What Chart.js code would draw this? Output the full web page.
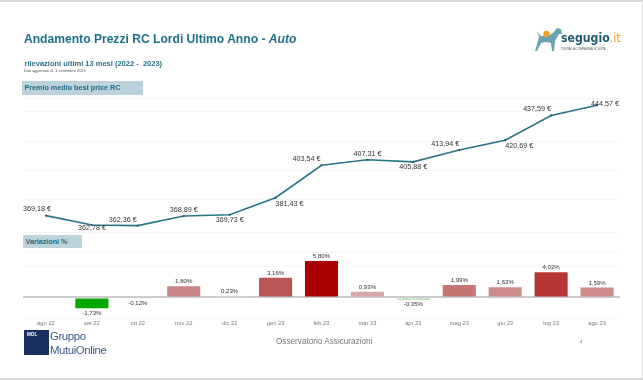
<!DOCTYPE html>
<html>
<head>
  <title>Andamento Prezzi RC Lordi Ultimo Anno - Auto</title>
  <script src="https://cdn.jsdelivr.net/npm/chart.js"></script>
  <style>
    html, body { margin: 0; padding: 0; background: #fff; overflow: hidden; }
    #page {
      position: relative; width: 643px; height: 380px; overflow: hidden;
      font-family: "Liberation Sans", Arial, sans-serif;
      filter: blur(0.35px);
    }
    #page canvas { position: absolute; left: 0; top: 0; }
    .txt { position: absolute; white-space: nowrap; line-height: 1; }
    .edge { position: absolute; background: #d9d9d9; }
    .band { position: absolute; background: #bcd3dc; color: #1f6b84; font-weight: bold; font-size: 7.2px; line-height: 13px; padding-left: 2.5px; box-sizing: border-box; }
  </style>
</head>
<body>
<div id="page">
  <canvas id="lineChart" width="643" height="380"></canvas>
  <canvas id="barChart" width="643" height="380"></canvas>

  <div class="edge" style="left:0;top:0;width:643px;height:2px"></div>
  <div class="edge" style="left:642px;top:0;width:1px;height:380px"></div>
  <div class="edge" style="left:0;top:378px;width:643px;height:2px"></div>

  <div class="txt" style="left:24px;top:33px;font-size:12.1px;font-weight:bold;color:#1f6f8c">Andamento Prezzi RC Lordi Ultimo Anno - <i>Auto</i></div>
  <div class="txt" style="left:24.5px;top:60px;font-size:7.5px;font-weight:bold;color:#2a7088">rilevazioni ultimi 13 mesi (2022 -&nbsp; 2023)</div>
  <div class="txt" style="left:24px;top:69px;font-size:3.9px;color:#555">Dati aggiornati al&nbsp; 3 settembre 2023</div>
  <div class="band" style="left:22px;top:81px;width:121px;height:14px">Premio medio best price RC</div>
  <div class="band" style="left:23px;top:235px;width:59px;height:13px">Variazioni %</div>

  <!-- segugio logo -->
  <svg style="position:absolute;left:534px;top:27px" width="30" height="26" viewBox="0 0 30 26">
    <path fill="#6aa3b2" d="M2 4 L5 9 L4 14 L1 24 L3 24 L7 16 L12 15 L17 16 L18 24 L20 24 L21 14 L25 7 L28 7 L27 2 L23 1 L19 6 L14 9 L7 9 Z"/>
    <circle cx="12.500" cy="7" r="3.200" fill="#f0a11e"/>
  </svg>
  <div class="txt" style="left:561px;top:32px;font-family:'DejaVu Sans Condensed','DejaVu Sans';font-weight:bold;font-size:12.2px;color:#1f5a6e">segugio<span style="color:#f0a11e;font-weight:normal">.it</span></div>
  <div class="txt" style="left:561px;top:47.500px;font-size:2.9px;color:#555">TROVA LA COMPAGNIA SCUOTA</div>

  <!-- MOL logo -->
  <div style="position:absolute;left:24px;top:330px;width:25px;height:25px;background:#17305f"></div>
  <div class="txt" style="left:27px;top:332.500px;font-size:4.6px;font-weight:bold;color:#fff">MOL</div>
  <div class="txt" style="left:50px;top:331px;font-size:11.4px;color:#3a5a8c;letter-spacing:-0.4px">Gruppo</div>
  <div class="txt" style="left:50px;top:345px;font-size:11.4px;color:#3a5a8c;letter-spacing:-0.4px">MutuiOnline</div>

  <div class="txt" style="left:276px;top:338px;font-size:8.2px;color:#777">Osservatorio Assicurazioni</div>
  <div class="txt" style="left:580px;top:340px;font-size:4px;color:#555">4</div>
</div>

<script>
  const months = ['ago 22','set 22','ott 22','nov 22','dic 22','gen 23','feb 23','mar 23','apr 23','mag 23','giu 23','lug 23','ago 23'];
  const prices = [369.18, 362.78, 362.36, 368.89, 369.73, 381.43, 403.54, 407.31, 405.88, 413.94, 420.69, 437.59, 444.57];
  const changes = [null, -1.73, -0.12, 1.80, 0.23, 3.16, 5.80, 0.93, -0.35, 1.99, 1.63, 4.02, 1.59];
  const barColors = ['#fff', '#00a800', '#cfe8cf', '#c98585', '#ead8d8', '#b85555', '#a80000', '#d8a8a8', '#a3d9a3', '#c67575', '#cc8c8c', '#b53535', '#cc8c8c'];

  // label offsets from each point
  const priceLabelOffsets = [[-9,-7],[0,3],[-15,-6],[0,-6],[0,5],[14,6],[-15,-6],[0,-6],[0,5],[-14,-6],[14,6],[-14,-6],[8,-1]];

  const gridColor = '#f5f5f5';

  function itNumber(v) {
    return v.toFixed(2).replace('.', ',');
  }

  // no datalabels plugin here, so the value labels get drawn by hand
  const priceLabels = {
    id: 'priceLabels',
    afterDatasetsDraw(chart) {
      const ctx = chart.ctx;
      const pts = chart.getDatasetMeta(0).data;
      ctx.save();
      ctx.font = '7.2px "Liberation Sans"';
      ctx.fillStyle = '#333';
      ctx.textAlign = 'center';
      ctx.textBaseline = 'middle';
      pts.forEach((p, i) => {
        const off = priceLabelOffsets[i];
        ctx.fillText(itNumber(prices[i]) + ' €', p.x + off[0], p.y + off[1]);
      });
      ctx.restore();
    }
  };

  const changeLabels = {
    id: 'changeLabels',
    afterDatasetsDraw(chart) {
      const ctx = chart.ctx;
      const bars = chart.getDatasetMeta(0).data;
      ctx.save();
      ctx.font = '6.1px "Liberation Sans"';
      ctx.fillStyle = '#333';
      ctx.textAlign = 'center';
      ctx.textBaseline = 'middle';
      bars.forEach((b, i) => {
        if (changes[i] === null) return;
        const y = changes[i] < 0 ? b.y + 5 : b.y - 4.5;
        ctx.fillText(itNumber(changes[i]) + '%', b.x, y);
      });
      ctx.restore();
    }
  };

  new Chart(document.getElementById('lineChart').getContext('2d'), {
    type: 'line',
    data: {
      labels: months,
      datasets: [{
        data: prices,
        borderColor: '#2b7488',
        borderWidth: 1.6,
        tension: 0,
        pointRadius: 1.1,
        pointBackgroundColor: '#1f5f73',
        pointBorderWidth: 0
      }]
    },
    options: {
      responsive: false,
      animation: false,
      layout: { padding: { left: 23, right: 23, top: 98, bottom: 148 } },
      plugins: { legend: { display: false }, tooltip: { enabled: false } },
      scales: {
        x: { display: false, offset: true },
        y: {
          min: 358,
          max: 449.5,
          grid: { color: gridColor, drawTicks: false },
          border: { display: false },
          ticks: { display: false, stepSize: 20 }
        }
      }
    },
    plugins: [priceLabels]
  });

  new Chart(document.getElementById('barChart').getContext('2d'), {
    type: 'bar',
    data: {
      labels: months,
      datasets: [{
        data: changes,
        backgroundColor: barColors,
        barPercentage: 0.72,
        categoryPercentage: 1
      }]
    },
    options: {
      responsive: false,
      animation: false,
      layout: { padding: { left: 23, right: 23, top: 252, bottom: 48 } },
      plugins: { legend: { display: false }, tooltip: { enabled: false } },
      scales: {
        x: {
          afterFit(scale) { scale.height = 14; },
          grid: { display: false, drawTicks: false },
          border: { display: false },
          ticks: { color: '#777', font: { family: 'Liberation Sans', size: 5.8 }, maxRotation: 0, autoSkip: false, padding: 2 }
        },
        y: {
          min: -3.27,
          max: 7.25,
          grid: {
            drawTicks: false,
            color: ctx => ctx.tick.value === 0 ? '#cccccc' : gridColor,
            lineWidth: ctx => ctx.tick.value === 0 ? 2 : 1
          },
          border: { display: false },
          ticks: { display: false, stepSize: 5 }
        }
      }
    },
    plugins: [changeLabels]
  });
</script>
</body>
</html>
